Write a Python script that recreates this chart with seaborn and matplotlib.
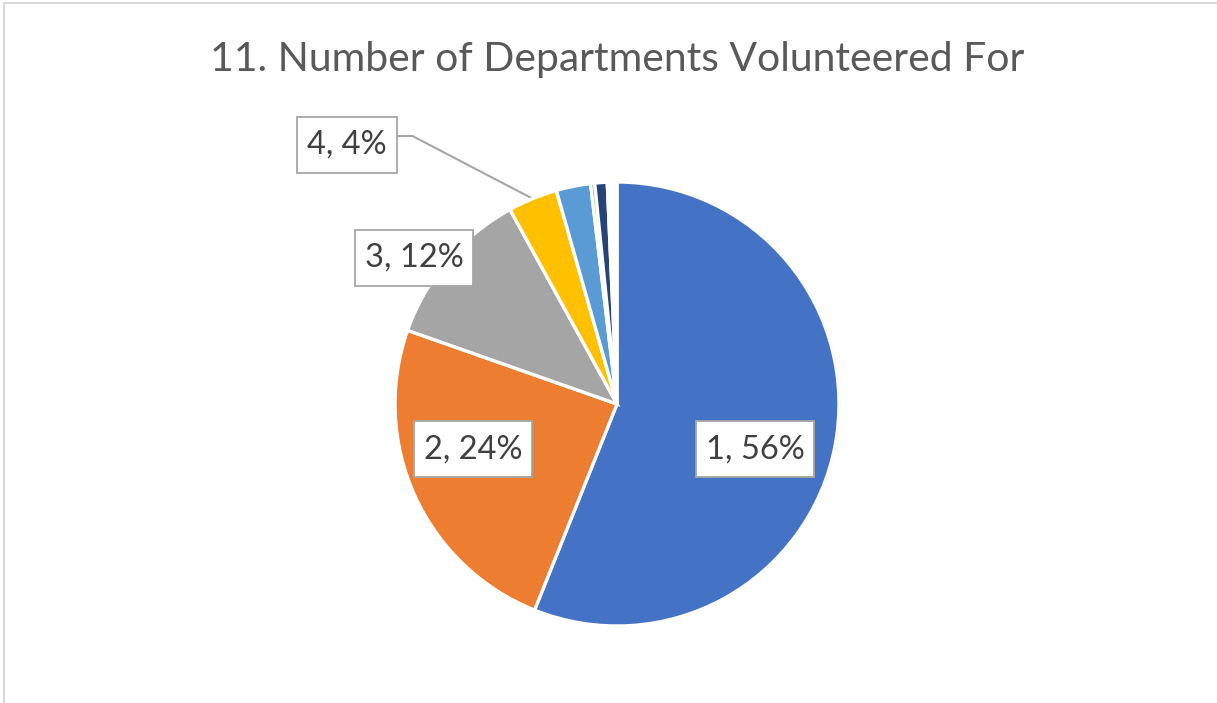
import matplotlib.pyplot as plt
from matplotlib.patches import Rectangle
import numpy as np
import seaborn as sns

# data (share of respondents, %)
categories = ['1', '2', '3', '4', '5', '6', '7', '']
shares = [56.0, 24.3, 11.6, 3.6, 2.5, 0.3, 0.9, 0.7]
colors = ['#4472C4', '#ED7D31', '#A5A5A5', '#FFC000', '#5B9BD5', '#70AD47', '#264478', '#FFFFFF']
shown_labels = ['1, 56%', '2, 24%', '3, 12%', '4, 4%']

sns.set_theme(style='white')
plt.rcParams['font.family'] = ['Lato', 'DejaVu Sans']

fig = plt.figure(figsize=(12.17, 7.03), dpi=100)
ax = fig.add_axes([0, 0, 1, 1])

wedges, _ = ax.pie(shares, colors=colors, startangle=90, counterclock=False,
                   radius=1, wedgeprops=dict(edgecolor='white', linewidth=2.4))

# pixel-based limits so the pie sits where the reference has it
px = 222.0
ax.set_xlim(-617 / px, (1217 - 617) / px)
ax.set_ylim(-(703 - 404) / px, 404 / px)
ax.set_aspect('auto')
ax.axis('off')

label_pos = [(0.622, -0.203), (-0.649, -0.203), (-0.914, 0.658), (-1.216, 1.167)]
fig.canvas.draw()
renderer = fig.canvas.get_renderer()
for i, txt in enumerate(shown_labels):
    x, y = label_pos[i]
    t = ax.text(x, y, txt, ha='center', va='center', fontsize=23.5, color='#404040', zorder=5)
    bb = t.get_window_extent(renderer)
    w = (bb.width + 20) / px
    h = 56 / px
    ax.add_patch(Rectangle((x - w / 2, y - h / 2), w, h, fc='white', ec='#A6A6A6',
                           lw=1.3, zorder=4))

# leader line for the small "4" slice
wd = wedges[3]
mid = np.deg2rad((wd.theta1 + wd.theta2) / 2)
tip = (np.cos(mid), np.sin(mid))
lx, ly = label_pos[3]
start = (lx + 0.225, ly + 0.04)
elbow = (start[0] + 0.07, start[1])
ax.plot([start[0], elbow[0], tip[0]], [start[1], elbow[1], tip[1]],
        color='#A6A6A6', lw=1.5, zorder=0)

fig.text(617 / 1217, 1 - 60 / 703, '11. Number of Departments Volunteered For',
         ha='center', va='center', fontsize=29.4, color='#595959')

# chart frame (top and left edges visible)
fig.add_artist(plt.Line2D([4 / 1217, 1], [1 - 3 / 703, 1 - 3 / 703], color='#D9D9D9', lw=1.5))
fig.add_artist(plt.Line2D([4 / 1217, 4 / 1217], [0, 1 - 3 / 703], color='#D9D9D9', lw=1.5))

fig.savefig('out.png', dpi=100)
